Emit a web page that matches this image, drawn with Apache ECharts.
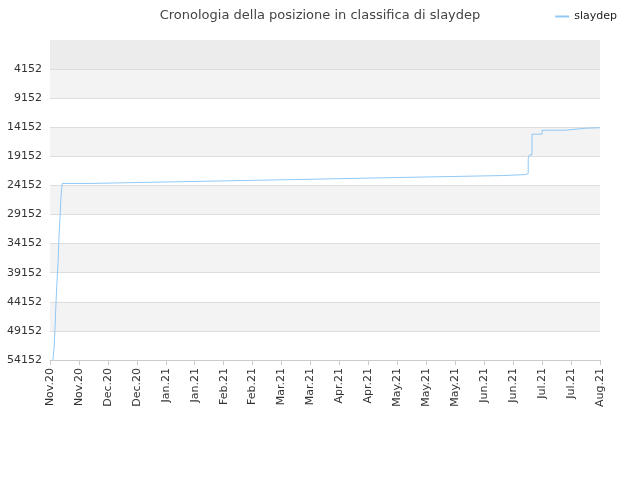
<!DOCTYPE html>
<html><head><meta charset="utf-8">
<script src="https://cdn.jsdelivr.net/npm/echarts@6/dist/echarts.min.js"></script>
<style>html,body{margin:0;padding:0}#c{width:640px;height:480px}</style>
</head><body><div id="c"></div>
<script>
// etichette asse x (una ogni ~15 giorni)
var xLabels = ['Nov.20','Nov.20','Dec.20','Dec.20','Jan.21','Jan.21','Feb.21','Feb.21','Mar.21','Mar.21',
  'Apr.21','Apr.21','May.21','May.21','May.21','Jun.21','Jun.21','Jul.21','Jul.21','Aug.21'];
// posizione in classifica, x in unità di etichetta
var posX = [0.1,0.14,0.17,0.21,0.24,0.28,0.31,0.35,0.38,0.42,1.35,3.1,4.9,6.7,8.5,10.25,12.0,13.8,15.6,16.4,16.52,16.56,16.65,17.0,17.8,18.5,19.0];
var posY = [54152,52100,49100,44000,40900,37200,33100,29200,26100,23813,23644,23470,23300,23135,22960,22790,22620,22457,22288,22118,19576,18898,15338,14661,14322,14230,14152];
var OFF = 848; // spostamento perché i tick cadano su 4152, 9152, ...

var chart = echarts.init(document.getElementById('c'), null, {renderer: 'canvas'});
var data = posX.map(function (x, i) { return [x, posY[i] + OFF]; });

chart.setOption({
    animation: false,
    title: {
        text: 'Cronologia della posizione in classifica di slaydep',
        left: 'center', top: 4,
        textStyle: {fontSize: 13, fontWeight: 'normal', color: '#444', fontFamily: 'DejaVu Sans'}
    },
    legend: {
        right: 18, top: 6, itemWidth: 14, itemHeight: 2,
        icon: 'rect',
        textStyle: {fontSize: 11, color: '#222', fontFamily: 'DejaVu Sans'},
        data: ['slaydep']
    },
    grid: {left: 50, right: 40, top: 40, bottom: 120},
    xAxis: {
        type: 'value', min: 0, max: 19, interval: 1,
        axisLine: {onZero: false, lineStyle: {color: '#ccc'}},
        axisTick: {show: true, lineStyle: {color: '#ccc'}},
        splitLine: {show: false},
        axisLabel: {
            rotate: 90, fontSize: 11, color: '#333', fontFamily: 'DejaVu Sans',
            formatter: function (v) { return xLabels[Math.round(v)] || ''; }
        }
    },
    yAxis: {
        type: 'value', inverse: true, min: 0, max: 55000, interval: 5000,
        axisLine: {show: false}, axisTick: {show: false},
        splitLine: {lineStyle: {color: '#dddddd'}},
        splitArea: {show: true, areaStyle: {color: ['#ffffff', '#f3f3f3']}},
        axisLabel: {
            fontSize: 11, color: '#333', fontFamily: 'DejaVu Sans',
            formatter: function (v) { return v <= 0 ? '' : String(v - OFF); }
        }
    },
    series: [{
        name: 'slaydep', type: 'line', step: 'end', showSymbol: false,
        data: data,
        lineStyle: {color: '#90c8f6', width: 1},
        itemStyle: {color: '#90c8f6'},
        markArea: {silent: true, itemStyle: {color: '#ececec'}, data: [[{yAxis: 0}, {yAxis: 5000}]]}
    }]
});
</script></body></html>
